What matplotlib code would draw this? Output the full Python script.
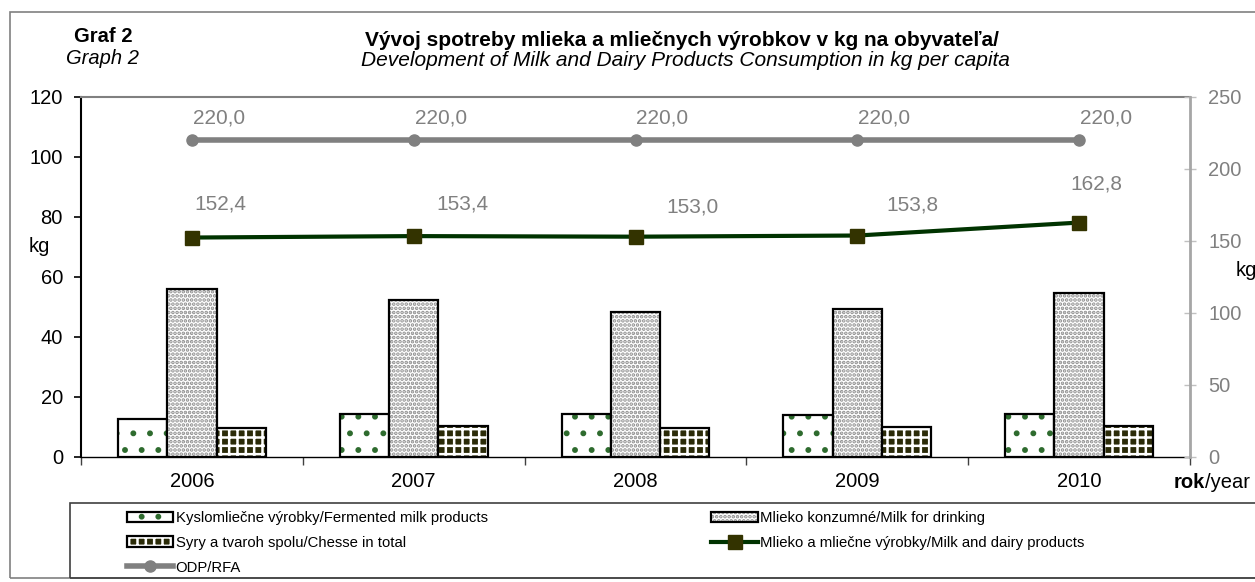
import numpy as np
import matplotlib.pyplot as plt
from matplotlib.patches import Rectangle

plt.rcParams['font.family'] = ['Liberation Sans', 'DejaVu Sans']

# data
years = ['2006', '2007', '2008', '2009', '2010']
fermented = [12.7, 14.2, 14.2, 14.0, 14.2]
milk_drink = [56.0, 52.5, 48.5, 49.5, 54.8]
cheese = [9.8, 10.2, 9.6, 10.1, 10.2]
milk_dairy = [152.4, 153.4, 153.0, 153.8, 162.8]
odp = [220.0, 220.0, 220.0, 220.0, 220.0]

lab_ferm = 'Kyslomliečne výrobky/Fermented milk products'
lab_drink = 'Mlieko konzumné/Milk for drinking'
lab_cheese = 'Syry a tvaroh spolu/Chesse in total'
lab_dairy = 'Mlieko a mliečne výrobky/Milk and dairy products'
lab_odp = 'ODP/RFA'

W, H = 1255, 582
fig = plt.figure(figsize=(W / 100, H / 100), dpi=100)
ax = fig.add_axes([81 / W, 1 - 457 / H, 1109 / W, 360 / H])
ax2 = ax.twinx()

x = np.arange(len(years))
w = 0.222

# bars: hatch drawn first, outline on top
def hatched_bar(pos, vals, face, hcol, hatch):
    b = ax.bar(pos, vals, w, color=face, edgecolor=hcol, hatch=hatch, linewidth=0)
    o = ax.bar(pos, vals, w, fill=False, edgecolor='black', linewidth=1.6)
    return (b, o)

plt.rcParams['hatch.linewidth'] = 1.8
b1 = hatched_bar(x - w, fermented, 'white', '#2e6b2e', '.')
b2 = hatched_bar(x, milk_drink, 'white', '#8c8c8c', '....')
b3 = hatched_bar(x + w, cheese, '#2b2b08', 'white', '++')

ax.set_xlim(-0.5, 4.5)
ax.set_ylim(0, 120)
ax.set_yticks(range(0, 121, 20))
ax.set_xticks(x)
ax.set_xticklabels(years)
ax.set_xticks(np.arange(-0.5, 4.6, 1), minor=True)
ax.tick_params(axis='x', which='major', length=0, pad=10.5, labelsize=14.5)
ax.tick_params(axis='x', which='minor', length=6, width=1, color='#404040')
ax.tick_params(axis='y', length=5, width=1.2, labelsize=14.5, pad=8)
ax.spines['left'].set_linewidth(1.5)
ax.spines['bottom'].set_linewidth(1)
ax.spines['top'].set_color('#808080')
ax.spines['top'].set_linewidth(1.5)
ax.spines['right'].set_visible(False)

# lines on the right axis
l1, = ax2.plot(x, milk_dairy, color='#003300', lw=3, marker='s', ms=10,
               mfc='#333300', mec='#333300', zorder=5)
l2, = ax2.plot(x, odp, color='#808080', lw=4, marker='o', ms=8,
               mfc='#808080', mec='#808080', zorder=5)
ax2.set_ylim(0, 250)
ax2.set_yticks(range(0, 251, 50))
ax2.tick_params(axis='y', direction='inout', length=8, width=1, color='#c0c0c0',
                labelcolor='#808080', labelsize=14.5, pad=9)
for s in ['left', 'top', 'bottom']:
    ax2.spines[s].set_visible(False)
ax2.spines['right'].set_color('#a6a6a6')
ax2.spines['right'].set_linewidth(2)

dairy_off = [(28, 34), (49, 32), (57, 30), (55, 31), (17, 39)]
for xi, v, off in zip(x, milk_dairy, dairy_off):
    ax2.annotate(f'{v:.1f}'.replace('.', ','), (xi, v), xytext=off,
                 textcoords='offset pixels', ha='center', va='center',
                 color='#808080', fontsize=15)
for xi, v in zip(x, odp):
    ax2.annotate(f'{v:.1f}'.replace('.', ','), (xi, v), xytext=(27, 22),
                 textcoords='offset pixels', ha='center', va='center',
                 color='#808080', fontsize=15)

# texts
fig.text(103 / W, 1 - 37 / H, 'Graf 2', ha='center', va='center',
         fontsize=14.5, fontweight='bold')
fig.text(103 / W, 1 - 59 / H, 'Graph 2', ha='center', va='center',
         fontsize=14.5, style='italic')
fig.text(682 / W, 1 - 40 / H,
         'Vývoj spotreby mlieka a mliečnych výrobkov v kg na obyvateľa/',
         ha='center', va='center', fontsize=15, fontweight='bold')
fig.text(685 / W, 1 - 61 / H,
         'Development of Milk and Dairy Products Consumption in kg per capita',
         ha='center', va='center', fontsize=15, style='italic')
fig.text(39 / W, 1 - 246 / H, 'kg', ha='center', va='center', fontsize=14.5)
fig.text(1236 / W, 1 - 270 / H, 'kg', ha='left', va='center', fontsize=14.5)
t_rok = fig.text(1174 / W, 1 - 482 / H, 'rok', ha='left', va='center',
                 fontsize=14.5, fontweight='bold')
fig.canvas.draw()
bb = t_rok.get_window_extent()
fig.text(bb.x1 / W, 1 - 482 / H, '/year', ha='left', va='center', fontsize=14.5)

# outer frame and legend frame
fig.patches.append(Rectangle((10 / W, 1 - 578 / H), 1.1, 566 / H,
                             transform=fig.transFigure, fill=False,
                             edgecolor='#808080', lw=1.2))
fig.patches.append(Rectangle((70 / W, 1 - 578 / H), 1.1, 75 / H,
                             transform=fig.transFigure, fill=False,
                             edgecolor='#404040', lw=1.2))

leg = fig.legend([b1, b3, l2, b2, l1],
                 [lab_ferm, lab_cheese, lab_odp, lab_drink, lab_dairy],
                 ncol=2, loc='upper left',
                 bbox_to_anchor=(127 / W, 1 - 511 / H),
                 fontsize=10.75, frameon=False, handlelength=3.1,
                 handletextpad=0.15, labelspacing=0.72, borderaxespad=0,
                 borderpad=0, columnspacing=15)

plt.savefig('out.png', dpi=100)
